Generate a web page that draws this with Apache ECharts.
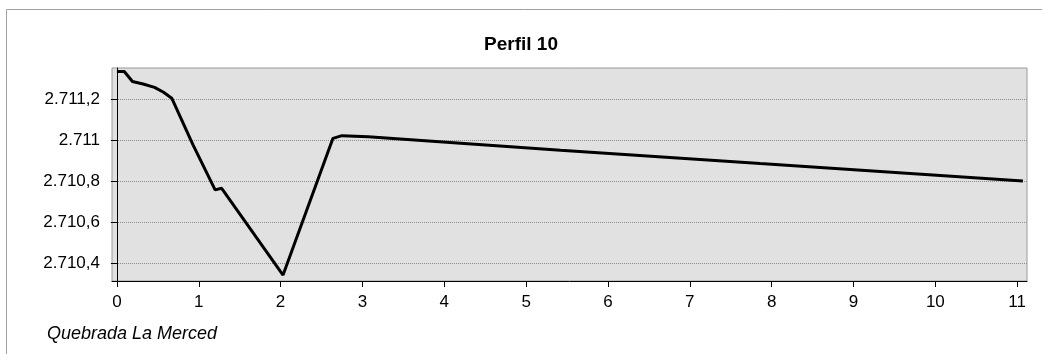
<!DOCTYPE html>
<html>
<head>
<meta charset="utf-8">
<script src="https://cdn.jsdelivr.net/npm/echarts@6/dist/echarts.min.js"></script>
<style>
html,body{margin:0;padding:0;background:#fff;}
#c{width:1042px;height:354px;}
</style>
</head>
<body>
<div id="c"></div>
<script>
const titleText = 'Perfil 10';
const footerText = 'Quebrada La Merced';
const distance = [0, 0.09, 0.19, 0.32, 0.46, 0.57, 0.67, 0.93, 1.20, 1.28, 2.03, 2.64, 2.75, 3.07, 5.42, 7.86, 11.07];
const elevation = [2711.333, 2711.333, 2711.284, 2711.272, 2711.256, 2711.232, 2711.203, 2710.976, 2710.757, 2710.765, 2710.343, 2711.008, 2711.021, 2711.016, 2710.950, 2710.885, 2710.800];
const xTicks = [0, 1, 2, 3, 4, 5, 6, 7, 8, 9, 10, 11];
const yTicks = [2710.4, 2710.6, 2710.8, 2711.0, 2711.2];

function fmtY(v) {
  let s = (Math.round(v * 10) / 10).toString();
  let parts = s.split('.');
  let ip = parts[0].replace(/\B(?=(\d{3})+(?!\d))/g, '.');
  return parts.length > 1 ? ip + ',' + parts[1] : ip;
}

const chart = echarts.init(document.getElementById('c'), null, {renderer: 'canvas'});
const font = '"Liberation Sans", Arial, sans-serif';
chart.setOption({
  animation: false,
  backgroundColor: '#ffffff',
  title: {
    text: titleText,
    left: 'center',
    top: 30,
    textStyle: {fontFamily: font, fontSize: 19, fontWeight: 'bold', color: '#000'}
  },
  graphic: [
    {type: 'rect', shape: {x: 6.5, y: 9.5, width: 1200, height: 500}, style: {fill: 'none', stroke: '#a0a0a0', lineWidth: 1}, silent: true, z: -1},
    {type: 'text', left: 47, top: 325, style: {text: footerText, font: 'italic 18px ' + font, fill: '#000'}}
  ],
  grid: {
    left: 112, right: 15, top: 68, bottom: 73,
    show: true, backgroundColor: '#e1e1e1', borderColor: '#9a9a9a', borderWidth: 1
  },
  xAxis: {
    type: 'value',
    min: -0.06, max: 11.12,
    axisLine: {show: true, lineStyle: {color: '#000', width: 1}},
    axisTick: {show: true, length: 6, customValues: xTicks, lineStyle: {color: '#000'}},
    axisLabel: {customValues: xTicks, color: '#000', fontFamily: font, fontSize: 17, margin: 13},
    splitLine: {show: false}
  },
  yAxis: {
    type: 'value',
    min: 2710.314, max: 2711.35,
    axisLine: {show: true, lineStyle: {color: '#000', width: 1}},
    axisTick: {show: true, length: 6, customValues: yTicks, lineStyle: {color: '#000'}},
    axisLabel: {customValues: yTicks, color: '#000', fontFamily: font, fontSize: 17, margin: 12, formatter: fmtY},
    splitLine: {show: true, lineStyle: {color: '#8c8c8c', type: [1, 1], width: 1}}
  },
  series: [{
    type: 'line',
    data: distance.map((d, i) => [d, elevation[i]]),
    showSymbol: false,
    lineStyle: {color: '#000', width: 3},
    itemStyle: {color: '#000'}
  }]
});
</script>
</body>
</html>
